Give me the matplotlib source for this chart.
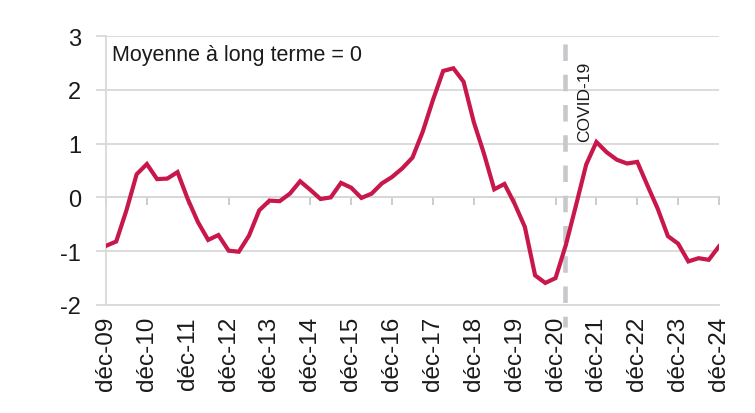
import matplotlib
matplotlib.use("Agg")
import matplotlib.pyplot as plt
import numpy as np

# Quarterly index values, déc-09 .. déc-24 (61 quarters)
values = [-0.90, -0.82, -0.24, 0.43, 0.62, 0.34, 0.35, 0.47, -0.03, -0.46,
          -0.79, -0.70, -0.99, -1.01, -0.71, -0.24, -0.06, -0.07, 0.07, 0.30,
          0.14, -0.03, 0.00, 0.27, 0.18, -0.01, 0.07, 0.26, 0.38, 0.54,
          0.74, 1.22, 1.81, 2.35, 2.40, 2.15, 1.40, 0.81, 0.15, 0.25,
          -0.12, -0.55, -1.45, -1.59, -1.50, -0.89, -0.15, 0.61, 1.03, 0.84,
          0.70, 0.63, 0.66, 0.22, -0.21, -0.72, -0.86, -1.19, -1.13, -1.16,
          -0.91]
tick_labels = ["déc-09", "déc-10", "déc-11", "déc-12", "déc-13", "déc-14",
               "déc-15", "déc-16", "déc-17", "déc-18", "déc-19", "déc-20",
               "déc-21", "déc-22", "déc-23", "déc-24"]
y_ticks = [-2, -1, 0, 1, 2, 3]
covid_x = 44.9
covid_label = "COVID-19"
note = "Moyenne à long terme = 0"

plt.rcParams['font.family'] = ['Liberation Sans', 'DejaVu Sans']

fig = plt.figure(figsize=(7.55, 4.14), dpi=100)
ax = fig.add_axes([106/755, 1-306/414, (719-106)/755, (306-37)/414])

x = np.arange(len(values))
ax.plot(x, values, color='#C8174A', lw=3.0, solid_joinstyle='miter', zorder=3)

ax.set_xlim(0, len(values) - 1)
ax.set_ylim(min(y_ticks), max(y_ticks))

grid_c = '#D9D9D9'
ax.set_yticks(y_ticks)
ax.set_yticklabels([str(v) for v in y_ticks], fontsize=17, color='#1a1a1a')
ax.grid(axis='y', color=grid_c, lw=1.3, zorder=0)
ax.tick_params(axis='y', length=7, width=1.3, color=grid_c, pad=11)

xt = np.arange(0, len(values), 4)
ax.set_xticks(xt)
ax.set_xticklabels(tick_labels, rotation=90, fontsize=17.5, color='#1a1a1a')
ax.tick_params(axis='x', length=0, pad=8)

for s in ['top', 'right']:
    ax.spines[s].set_visible(False)
ax.spines['left'].set_color(grid_c)
ax.spines['left'].set_linewidth(1.3)
ax.spines['bottom'].set_color(grid_c)
ax.spines['bottom'].set_linewidth(1.3)

# axis line at zero with tick marks
frac0 = (0 - min(y_ticks)) / (max(y_ticks) - min(y_ticks))
sec = ax.secondary_xaxis(frac0)
sec.set_xticks(xt)
sec.tick_params(axis='x', direction='out', length=6, width=1.3, color='#C8C8C8',
                labelbottom=False, labeltop=False, bottom=True, top=False)
sec.xaxis.set_ticks_position('bottom')
sec.set_xticklabels([])
sec.spines['bottom'].set_color('#C8C8C8')
sec.spines['bottom'].set_linewidth(1.3)
for s in ['top', 'left', 'right']:
    sec.spines[s].set_visible(False)

# COVID dashed line
ax.plot([covid_x, covid_x], [2.86, -2.4], color='#C8C8CC', lw=3.3,
        linestyle=(0, (3.6, 3.0)), clip_on=False, zorder=2, solid_capstyle='butt')
ax.text(covid_x + 1.9, 1.04, covid_label, rotation=90, ha='center', va='bottom',
        fontsize=12.5, color='#1a1a1a')

ax.text(112/755, 1-55.5/414, note, transform=fig.transFigure, fontsize=15.5,
        ha='left', va='center', color='#1a1a1a')

fig.savefig('out.png', dpi=100)
